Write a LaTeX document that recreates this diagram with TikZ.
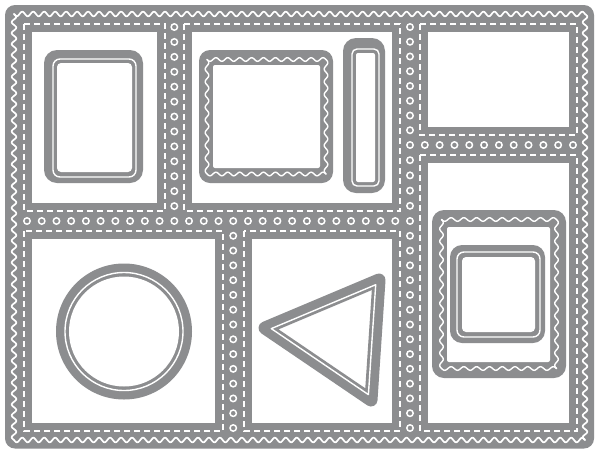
\documentclass[tikz,border=0pt]{standalone}
\definecolor{diegray}{RGB}{140,141,143}
\tikzset{
  wavestyle/.style={draw=white, line width=1.7, line cap=round},
  smallwavestyle/.style={draw=white, line width=1.4, line cap=round},
  stitch/.style={draw=white, line width=2, dash pattern=on 6 off 4},
  dotring/.style={draw=white, line width=1.5},
  band/.style={fill=diegray},
  hole/.style={fill=white},
  thinline/.style={draw=white, line width=1.4},
}
% horizontal wave: x0, x1, y, periods, amplitude, samples, style
\newcommand\hwave[7]{\draw[#7] plot[domain=#1:#2, samples=#6, smooth] (\x,{#3+#5*sin(360*(#4*((\x-#1)/(#2-#1))-floor(#4*((\x-#1)/(#2-#1)))))});}
% vertical wave: y0, y1, x, periods, amplitude, samples, style
\newcommand\vwave[7]{\draw[#7] plot[domain=#1:#2, samples=#6, smooth] ({#3+#5*sin(360*(#4*((\x-#1)/(#2-#1))-floor(#4*((\x-#1)/(#2-#1)))))},\x);}
\begin{document}
\begin{tikzpicture}[x=1pt,y=-1pt]
\useasboundingbox (0,0) rectangle (600,456);
\fill[white] (0,0) rectangle (600,456);
% frame
\fill[band, rounded corners=10] (5,5) rectangle (594,448.5);
% panels
\fill[hole] (32,32) rectangle (157,203);
\fill[hole] (192,32) rectangle (392,203);
\fill[hole] (428,32) rectangle (569,127);
\fill[hole] (428,163) rectangle (569,423);
\fill[hole] (32,239) rectangle (215,423);
\fill[hole] (252,239) rectangle (392,423);
% stitched outlines
\draw[stitch] (24,24) rectangle (165,211);
\draw[stitch] (184,24) rectangle (400,211);
\draw[stitch] (420,24) rectangle (577,135);
\draw[stitch] (420,155) rectangle (577,431);
\draw[stitch] (24,231) rectangle (223,431);
\draw[stitch] (244,231) rectangle (400,431);
% outer wave
\hwave{14}{585}{14}{52}{2.3}{625}{wavestyle}
\hwave{14}{585}{440}{52}{2.3}{625}{wavestyle}
\vwave{14}{440}{14}{39}{2.3}{475}{wavestyle}
\vwave{14}{440}{585}{39}{2.3}{475}{wavestyle}
% dot rows
\foreach \i in {0,...,25} \draw[dotring] ({27+\i*14.7308},221) circle[radius=3.2];
\foreach \i in {0,...,12} \draw[dotring] (174.31,{27+\i*14.923}) circle[radius=3.2];
\foreach \i in {1,...,14} \draw[dotring] (233.23,{221+\i*14.786}) circle[radius=3.2];
\foreach \i in {0,...,8} \draw[dotring] (410,{27+\i*14.75}) circle[radius=3.2];
\foreach \i in {1,...,5} \draw[dotring] (410,{145+\i*15.2}) circle[radius=3.2];
\foreach \i in {1,...,14} \draw[dotring] (410,{221+\i*14.786}) circle[radius=3.2];
\foreach \i in {1,...,11} \draw[dotring] ({410+\i*14.818},145) circle[radius=3.2];
% shape 1: rounded rectangle
\fill[band, rounded corners=13] (44,50) rectangle (143,183);
\fill[hole, rounded corners=4] (57,63) rectangle (132,172);
\draw[thinline, rounded corners=7] (53,59) rectangle (136,177);
% shape 2: square with wavy line
\fill[band, rounded corners=11] (199,50) rectangle (333,183);
\fill[hole, rounded corners=2] (213,65) rectangle (320,168);
\hwave{207}{326}{59.5}{10}{1.8}{121}{smallwavestyle}
\hwave{207}{326}{174}{10}{1.8}{121}{smallwavestyle}
\vwave{59.5}{174}{207}{9}{1.8}{121}{smallwavestyle}
\vwave{59.5}{174}{326}{9}{1.8}{121}{smallwavestyle}
% shape 3: slim rectangle
\fill[band, rounded corners=13] (343,38) rectangle (385,193);
\fill[hole, rounded corners=2] (356,53) rectangle (375,182);
\draw[thinline, rounded corners=5] (352,49) rectangle (379,186);
% shape 4: circle
\fill[band] (124,331.5) circle[radius=68];
\fill[hole] (124,331.5) circle[radius=55];
\draw[thinline] (124,331.5) circle[radius=59];
% shape 5: triangle
\draw[diegray, line width=13, line join=round] (265,328) -- (379,280) -- (371,400) -- cycle;
\draw[thinline, line join=round] (271.3,328.6) -- (375.7,284.7) -- (368.4,394.6) -- cycle;
% shape 6: scalloped rectangle
\fill[band, rounded corners=12] (432,210) rectangle (566,378);
\fill[hole, rounded corners=2] (447,227) rectangle (550,362);
\hwave{441.5}{556.5}{219.5}{9}{1.8}{109}{smallwavestyle}
\hwave{441.5}{556.5}{368.5}{9}{1.8}{109}{smallwavestyle}
\vwave{219.5}{368.5}{441.5}{12}{1.8}{145}{smallwavestyle}
\vwave{219.5}{368.5}{556.5}{12}{1.8}{145}{smallwavestyle}
% shape 7: inner square
\fill[band, rounded corners=12] (450,245) rectangle (545,343);
\fill[hole, rounded corners=4] (462,257) rectangle (535,332);
\draw[thinline, rounded corners=7] (457,252) rectangle (540,337);
\end{tikzpicture}
\end{document}
